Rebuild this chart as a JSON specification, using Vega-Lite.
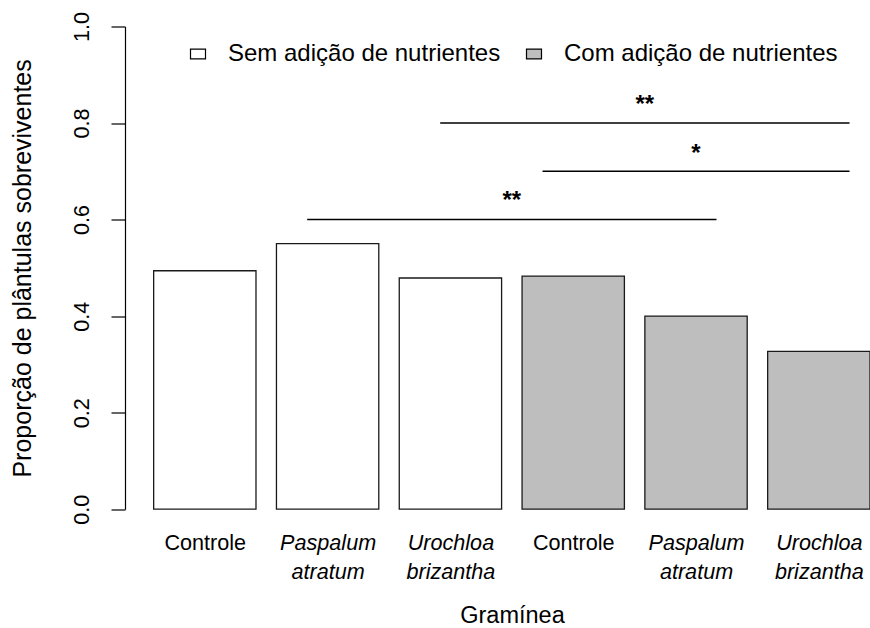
{
  "$schema": "https://vega.github.io/schema/vega-lite/v6.json",
  "autosize": {"type": "none"},
  "width": 745,
  "height": 482.7,
  "padding": {"left": 125, "top": 26.5, "right": 0, "bottom": 118.8},
  "background": "white",
  "config": {
    "font": "Liberation Sans",
    "view": {"stroke": null},
    "axis": {"grid": false, "labelColor": "black", "titleColor": "black", "titleFontWeight": "normal", "domainColor": "black", "tickColor": "black"}
  },
  "datasets": {
    "barras": [
      {"grupo": "Sem adição de nutrientes", "graminea": "Controle", "x0": 0.2, "x1": 1.2, "prop": 0.494},
      {"grupo": "Sem adição de nutrientes", "graminea": "Paspalum atratum", "x0": 1.4, "x1": 2.4, "prop": 0.55},
      {"grupo": "Sem adição de nutrientes", "graminea": "Urochloa brizantha", "x0": 2.6, "x1": 3.6, "prop": 0.479},
      {"grupo": "Com adição de nutrientes", "graminea": "Controle", "x0": 3.8, "x1": 4.8, "prop": 0.483},
      {"grupo": "Com adição de nutrientes", "graminea": "Paspalum atratum", "x0": 5.0, "x1": 6.0, "prop": 0.4},
      {"grupo": "Com adição de nutrientes", "graminea": "Urochloa brizantha", "x0": 6.2, "x1": 7.2, "prop": 0.327}
    ],
    "linhas": [
      {"x0": 1.7, "x1": 5.7, "y": 0.6},
      {"x0": 4.0, "x1": 7.0, "y": 0.7},
      {"x0": 3.0, "x1": 7.0, "y": 0.8}
    ],
    "estrelas": [
      {"x": 3.7, "y": 0.624, "sig": "**"},
      {"x": 5.5, "y": 0.722, "sig": "*"},
      {"x": 5.0, "y": 0.822, "sig": "**"}
    ]
  },
  "layer": [
    {
      "data": {"name": "barras"},
      "mark": {"type": "rect", "stroke": "#1a1a1a", "strokeWidth": 1.3},
      "encoding": {
        "x": {
          "field": "x0", "type": "quantitative", "title": "Gramínea",
          "scale": {"domain": [-0.08, 7.2], "nice": false, "zero": false},
          "axis": {
            "values": [0.7, 1.9, 3.1, 4.3, 5.5, 6.7],
            "labelExpr": "(datum.value < 1.3 || (datum.value > 4 && datum.value < 4.9)) ? 'Controle' : ((datum.value > 1.3 && datum.value < 2.5) || (datum.value > 4.9 && datum.value < 6.1)) ? ['Paspalum', 'atratum'] : ['Urochloa', 'brizantha']",
            "labelFontStyle": {"condition": {"test": "datum.value < 1.3 || (datum.value > 4 && datum.value < 4.9)", "value": "normal"}, "value": "italic"},
            "domain": false, "ticks": false, "tickSize": 0,
            "labelFontSize": 21.6, "labelBaseline": "alphabetic", "labelPadding": 40,
            "labelLineHeight": 29, "labelFlush": false, "labelOverlap": false, "labelBound": false,
            "titleFontSize": 23.5, "titleX": 387, "titleY": 113, "titleAlign": "center", "titleBaseline": "alphabetic", "titleAnchor": null
          }
        },
        "x2": {"field": "x1"},
        "y": {
          "field": "prop", "type": "quantitative", "title": "Proporção de plântulas sobreviventes",
          "scale": {"domain": [0, 1], "nice": false},
          "axis": {
            "values": [0, 0.2, 0.4, 0.6, 0.8, 1.0],
            "format": ".1f",
            "tickSize": 14, "tickWidth": 1.2, "domainWidth": 1.2,
            "labelAngle": 270, "labelAlign": "center", "labelBaseline": "alphabetic", "labelPadding": 23,
            "labelFontSize": 21.6, "labelFlush": false, "labelOverlap": false,
            "titleFontSize": 25, "titleAngle": 270, "titleX": -95, "titleY": 241.4, "titleAlign": "center", "titleBaseline": "alphabetic"
          }
        },
        "y2": {"datum": 0},
        "color": {
          "field": "grupo", "type": "nominal",
          "scale": {"domain": ["Sem adição de nutrientes", "Com adição de nutrientes"], "range": ["white", "#BEBEBE"]},
          "legend": {
            "title": null, "orient": "none", "legendX": 61, "legendY": 15.5,
            "direction": "horizontal", "columns": 2, "columnPadding": 21, "padding": 0,
            "symbolType": "M-1,-0.65H1V0.65H-1Z", "symbolSize": 225,
            "symbolStrokeColor": "black", "symbolStrokeWidth": 1.2,
            "labelFontSize": 24, "labelOffset": 18, "labelLimit": 500, "labelColor": "black"
          }
        }
      }
    },
    {
      "data": {"name": "linhas"},
      "mark": {"type": "rule", "color": "black", "strokeWidth": 1.5},
      "encoding": {
        "x": {"field": "x0", "type": "quantitative", "title": "Gramínea"},
        "x2": {"field": "x1"},
        "y": {"field": "y", "type": "quantitative", "title": "Proporção de plântulas sobreviventes"}
      }
    },
    {
      "data": {"name": "estrelas"},
      "mark": {"type": "text", "fontSize": 24, "fontWeight": "bold", "baseline": "alphabetic", "align": "center", "color": "black"},
      "encoding": {
        "x": {"field": "x", "type": "quantitative", "title": "Gramínea"},
        "y": {"field": "y", "type": "quantitative", "title": "Proporção de plântulas sobreviventes"},
        "text": {"field": "sig"}
      }
    }
  ]
}
